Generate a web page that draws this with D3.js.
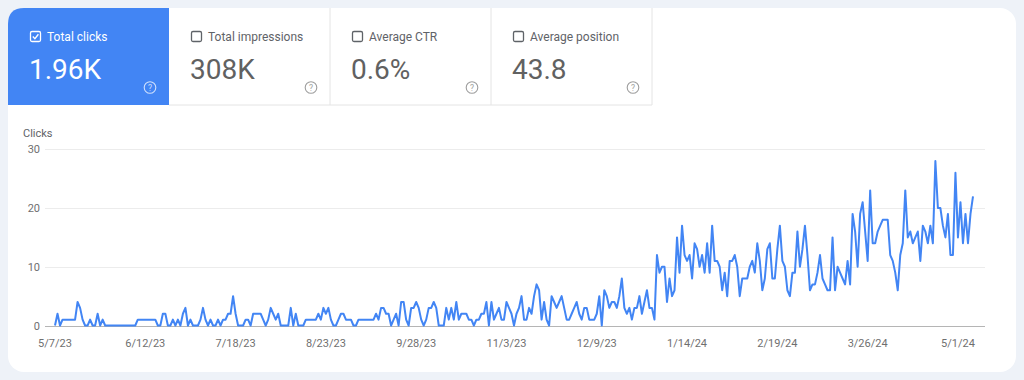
<!DOCTYPE html>
<html>
<head>
<meta charset="utf-8">
<script src="https://cdn.jsdelivr.net/npm/d3@7"></script>
<style>
  html, body { margin: 0; padding: 0; background: #eef2f8; }
  svg { display: block; font-family: Roboto, "Noto Sans", sans-serif; }
</style>
</head>
<body>
<svg id="chart" width="1024" height="380"></svg>
<script>
// ---- data ----
const metricLabels = ["Total clicks", "Total impressions", "Average CTR", "Average position"];
const metricValues = ["1.96K", "308K", "0.6%", "43.8"];
const metricSelected = [true, false, false, false];

const startDate = "2023-05-07";
const clicks = [
  0,2,0,1,1,1,1,1,1,4,3,1,0,0,1,0,0,2,0,1,0,
  0,0,0,0,0,0,0,0,0,0,0,0,1,1,1,1,1,1,1,1,
  0,0,2,2,0,0,1,0,1,0,2,3,0,1,0,0,0,1,3,1,
  0,1,0,0,1,0,1,1,2,2,5,2,0,0,0,
  1,1,0,2,2,2,2,1,0,1,3,2,1,2,0,
  0,0,0,3,0,2,0,0,0,1,1,1,1,1,
  2,1,3,2,3,1,0,0,1,2,2,1,1,1,0,0,
  1,1,1,1,1,1,1,2,1,3,3,2,2,0,1,2,0,4,4,1,
  0,3,3,4,3,1,0,1,3,3,4,3,0,0,0,3,1,3,1,4,1,2,2,2,
  1,1,0,1,1,2,2,4,0,4,1,2,3,1,1,4,3,2,0,
  2,3,5,1,1,3,2,5,7,6,1,4,1,0,5,4,3,4,5,3,1,1,2,3,4,2,1,
  3,3,1,1,1,2,5,0,6,5,3,4,4,3,5,8,3,2,3,1,3,3,5,2,4,6,3,3,1,
  12,9,10,10,4,8,5,6,15,9,17,12,11,12,8,14,13,10,12,9,14,9,17,11,11,10,6,9,5,11,11,12,10,5,8,8,8,10,
  11,9,14,11,6,8,13,14,8,8,13,17,11,10,6,5,9,9,16,10,13,17,12,6,7,7,9,12,8,7,6,6,15,6,10,9,
  8,7,11,7,19,16,10,19,21,16,11,23,14,14,16,17,18,18,18,12,11,9,6,12,14,23,15,16,14,15,16,11,17,16,14,17,
  14,28,20,20,17,15,19,12,12,26,15,21,14,19,14,19,22
];
const yTicks = [0, 10, 20, 30];
const xTickLabels = ["5/7/23","6/12/23","7/18/23","8/23/23","9/28/23","11/3/23","12/9/23","1/14/24","2/19/24","3/26/24","5/1/24"];
const yAxisTitle = "Clicks";

// ---- layout ----
const svg = d3.select("#chart");
const blue = "#4285f4";
const gray = "#5f6368";

// card
svg.append("rect").attr("x", 8).attr("y", 8).attr("width", 1008).attr("height", 364)
  .attr("rx", 16).attr("fill", "#ffffff");

// metric tiles
const tileX = [8, 169, 330, 491];
const tileW = 161;
metricLabels.forEach((lab, i) => {
  const x0 = tileX[i];
  const sel = metricSelected[i];
  const g = svg.append("g");
  if (sel) {
    const r = 16, x1 = x0 + tileW, y0 = 8, y1 = 105;
    g.append("path")
      .attr("d", `M${x0},${y1} L${x0},${y0 + r} Q${x0},${y0} ${x0 + r},${y0} L${x1},${y0} L${x1},${y1} Z`)
      .attr("fill", blue);
  } else {
    g.append("line").attr("x1", x0).attr("x2", x0 + tileW).attr("y1", 105).attr("y2", 105)
      .attr("stroke", "#e4e4e4").attr("stroke-width", 1);
    g.append("line").attr("x1", x0 + tileW).attr("x2", x0 + tileW).attr("y1", 8).attr("y2", 105)
      .attr("stroke", "#e4e4e4").attr("stroke-width", 1);
  }
  const fg = sel ? "#ffffff" : gray;
  // checkbox
  g.append("rect").attr("x", x0 + 22.5).attr("y", 31.5).attr("width", 10).attr("height", 10)
    .attr("rx", 1.5).attr("fill", "none").attr("stroke", fg).attr("stroke-width", 1.3);
  if (sel) {
    g.append("path").attr("d", `M${x0 + 24.8},${36.6} L${x0 + 26.9},${38.7} L${x0 + 30.4},${34.3}`)
      .attr("fill", "none").attr("stroke", fg).attr("stroke-width", 1.4);
  }
  g.append("text").attr("x", x0 + 39).attr("y", 41).attr("font-size", 12)
    .attr("fill", sel ? "#ffffff" : "#5f6368").text(lab);
  g.append("text").attr("x", x0 + 21).attr("y", 79).attr("font-size", 28)
    .attr("fill", sel ? "#ffffff" : "#616161").text(metricValues[i]);
  // help icon
  const hc = sel ? "rgba(255,255,255,0.75)" : "#9e9e9e";
  g.append("circle").attr("cx", x0 + 142).attr("cy", 87.5).attr("r", 5.8)
    .attr("fill", "none").attr("stroke", hc).attr("stroke-width", 1.1);
  g.append("text").attr("x", x0 + 142).attr("y", 90.8).attr("text-anchor", "middle")
    .attr("font-size", 8.5).attr("fill", hc).text("?");
});

// ---- chart ----
const parse = d3.utcParse("%Y-%m-%d");
const d0 = parse(startDate);
const series = clicks.map((v, i) => ({ date: d3.utcDay.offset(d0, i), value: v }));

const x = d3.scaleUtc()
  .domain([d0, d3.utcDay.offset(d0, clicks.length - 1)])
  .range([55, 973]);
const y = d3.scaleLinear().domain([0, 30]).range([325.5, 149.3]);

// gridlines
svg.append("g").selectAll("line").data(yTicks).join("line")
  .attr("x1", 45).attr("x2", 985)
  .attr("y1", d => Math.round(y(d)) + 0.5).attr("y2", d => Math.round(y(d)) + 0.5)
  .attr("stroke", d => d === 0 ? "#b5b5b5" : "#ececec").attr("stroke-width", 1);

// y labels
svg.append("g").selectAll("text").data(yTicks).join("text")
  .attr("x", 40).attr("y", d => y(d) + 4).attr("text-anchor", "end")
  .attr("font-size", 11).attr("fill", "#6f6f6f").text(d => d);

svg.append("text").attr("x", 23).attr("y", 137).attr("font-size", 11)
  .attr("fill", "#5f6368").text(yAxisTitle);

// x labels
const fmt = d => `${d.getUTCMonth() + 1}/${d.getUTCDate()}/${String(d.getUTCFullYear()).slice(2)}`;
const labelDates = xTickLabels.map(s => {
  const [m, dd, yy] = s.split("/").map(Number);
  return new Date(Date.UTC(2000 + yy, m - 1, dd));
});
svg.append("g").selectAll("text").data(labelDates).join("text")
  .attr("x", d => x(d)).attr("y", 347).attr("text-anchor", "middle")
  .attr("font-size", 11).attr("fill", "#6f6f6f").text(d => fmt(d));

// line
const line = d3.line().x(d => x(d.date)).y(d => y(d.value));
svg.append("path").datum(series).attr("d", line)
  .attr("fill", "none").attr("stroke", blue).attr("stroke-width", 2)
  .attr("stroke-linejoin", "round");
</script>
</body>
</html>
